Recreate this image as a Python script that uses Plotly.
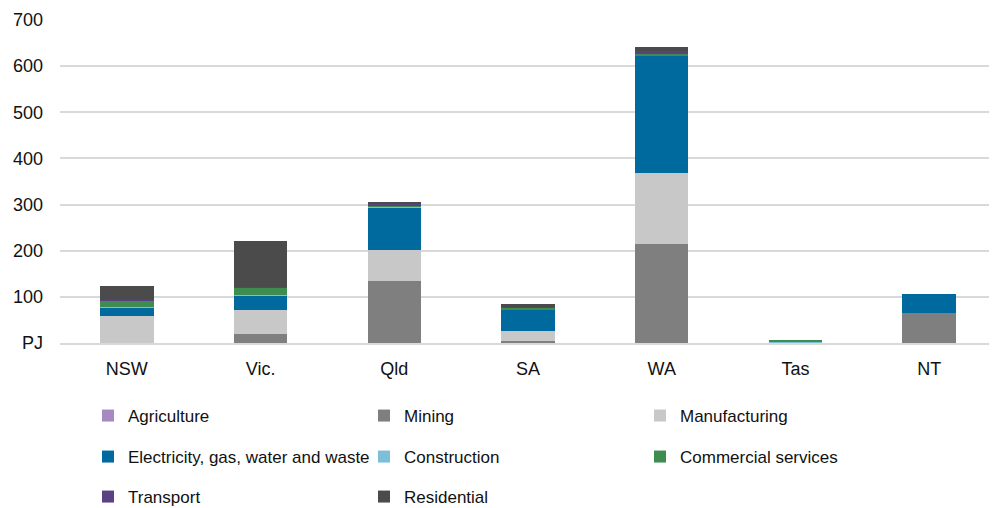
import plotly.graph_objects as go

states = ["NSW", "Vic.", "Qld", "SA", "WA", "Tas", "NT"]

agriculture   = [0.5, 0.5, 0.5, 0.3, 0.5, 0, 0]
mining        = [0, 18, 133, 3, 215, 0, 66]
manufacturing = [59, 53, 68, 23, 153, 0.5, 0]
electricity   = [17.5, 31.5, 93, 47, 254, 0, 40]
construction  = [0.3, 0.3, 0.5, 0.3, 1.5, 3, 0]
commercial    = [14, 17, 1, 3, 2.5, 1.5, 0]
transport     = [2, 2, 6, 1, 6, 0, 0]
residential   = [30, 99, 4, 7, 9, 0, 0]

series = [
    ("Agriculture", agriculture, "#A589C2", "legend"),
    ("Mining", mining, "#7F7F7F", "legend"),
    ("Manufacturing", manufacturing, "#C8C8C8", "legend"),
    ("Electricity, gas, water and waste", electricity, "#00699E", "legend2"),
    ("Construction", construction, "#7DBED8", "legend2"),
    ("Commercial services", commercial, "#3E8C50", "legend2"),
    ("Transport", transport, "#5B4183", "legend3"),
    ("Residential", residential, "#4B4B4B", "legend3"),
]

tick_vals = [0, 100, 200, 300, 400, 500, 600, 700]
tick_text = ["PJ", "100", "200", "300", "400", "500", "600", "700"]

FONT = "Liberation Sans, Arial, sans-serif"
TXT = "#111111"

fig = go.Figure()
for name, vals, color, lg in series:
    fig.add_trace(go.Bar(
        x=states, y=vals, name=name,
        marker=dict(color=color, line=dict(width=0)),
        width=0.4, legend=lg,
    ))

leg_common = dict(orientation="h", xanchor="left", yanchor="middle",
                  font=dict(family=FONT, size=17, color=TXT),
                  entrywidth=231, entrywidthmode="pixels",
                  bgcolor="rgba(0,0,0,0)", itemwidth=30, traceorder="normal")

# figure-pixel plot area: 52..988 horizontally, 12..335 vertically
def ypaper(py):
    return (335 - py) / 323.0

def xpaper(px):
    return (px - 52) / 936.0

fig.update_layout(
    width=997, height=508,
    margin=dict(l=52, r=9, t=12, b=173, autoexpand=False),
    paper_bgcolor="white", plot_bgcolor="white",
    barmode="stack",
    font=dict(family=FONT, size=18, color=TXT),
    legend=dict(x=xpaper(80), y=ypaper(408), **leg_common),
    legend2=dict(x=xpaper(80), y=ypaper(449), **leg_common),
    legend3=dict(x=xpaper(80), y=ypaper(489), **leg_common),
    xaxis=dict(showgrid=False, showline=True, linecolor="#d9d9d9", linewidth=2,
               ticks="", ticklabelstandoff=8,
               tickfont=dict(family=FONT, size=18, color=TXT)),
    yaxis=dict(range=[0, 700], tickvals=tick_vals, ticktext=tick_text,
               showgrid=True, gridcolor="#d9d9d9", gridwidth=2,
               zeroline=False, ticks="", ticklabelstandoff=16,
               tickfont=dict(family=FONT, size=18, color=TXT)),
    showlegend=True,
)

fig.write_html("out.html")
